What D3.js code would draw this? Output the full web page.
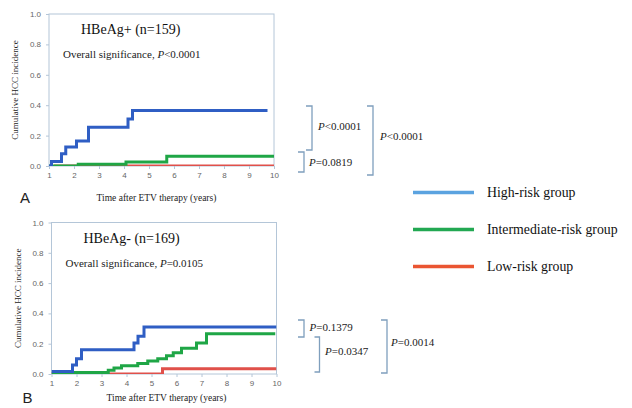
<!DOCTYPE html>
<html>
<head>
<meta charset="utf-8">
<script src="https://d3js.org/d3.v7.min.js"></script>
<style>
body { margin: 0; background: #fff; }
svg { display: block; }
</style>
</head>
<body>
<div id="chartgoeshere"></div>
<script>
// Cumulative HCC incidence by risk group, HBeAg+ and HBeAg- panels

// Axis ticks
var xTicks = [1, 2, 3, 4, 5, 6, 7, 8, 9, 10];
var yTicks = [0, 0.2, 0.4, 0.6, 0.8, 1.0];

var groupNames = ["High-risk group", "Intermediate-risk group", "Low-risk group"];

// HBeAg+ (n=159) step curves: time (years) / cumulative incidence
var posHighTime = [1, 1.1, 1.5, 1.67, 2.1, 2.58, 4.16, 4.34, 9.74];
var posHighRate = [0, 0.03, 0.08, 0.125, 0.165, 0.255, 0.31, 0.365, 0.365];
var posIntTime = [1, 2.17, 4.08, 5.71, 10];
var posIntRate = [0, 0.012, 0.027, 0.064, 0.064];
var posLowTime = [1.2, 10];
var posLowRate = [0, 0];

// HBeAg- (n=169)
var negHighTime = [1, 1.84, 2.0, 2.2, 4.3, 4.46, 4.7, 10];
var negHighRate = [0.017, 0.06, 0.1, 0.16, 0.205, 0.25, 0.31, 0.31];
var negIntTime = [1, 1.84, 3.27, 3.5, 3.8, 4.45, 4.85, 5.25, 5.6, 5.87, 6.2, 6.8, 7.2, 9.95];
var negIntRate = [0, 0.01, 0.025, 0.04, 0.055, 0.07, 0.085, 0.1, 0.12, 0.14, 0.17, 0.205, 0.265, 0.265];
var negLowTime = [1, 5.44, 10];
var negLowRate = [0, 0.035, 0.035];

// Pairwise p-values (text after the italic P)
var posPValues = ["<0.0001", "=0.0819", "<0.0001"];
var negPValues = ["=0.1379", "=0.0347", "=0.0014"];

var serif = "'Liberation Serif', 'Times New Roman', serif";
var sans = "'Liberation Sans', Arial, sans-serif";
var frameColor = "#b4c6d8";
var lineColors = ["#2f5ec4", "#1fa646", "#e0504a"];
var legendColors = ["#5ba3e0", "#22a852", "#ea5532"];

var svg = d3.select("#chartgoeshere")
	.append("svg")
	.attr("width", 632)
	.attr("height", 408);

// Draw one panel
function drawPanel(p) {
	var x = d3.scaleLinear().domain([1, 10]).range([p.left, p.right]);
	var y = d3.scaleLinear().domain([0, 1]).range([p.bottom, p.top]);

	// clip so lines at 0 are half hidden like the original
	svg.append("clipPath")
		.attr("id", p.id + "-clip")
		.append("rect")
		.attr("x", p.left)
		.attr("y", p.top)
		.attr("width", p.right - p.left)
		.attr("height", p.bottom - p.top);

	// Frame
	svg.append("rect")
		.attr("x", p.left)
		.attr("y", p.top)
		.attr("width", p.right - p.left)
		.attr("height", p.bottom - p.top)
		.attr("fill", "#fff")
		.attr("stroke", frameColor)
		.attr("stroke-width", 1);

	// Axes
	var xAxis = svg.append("g")
		.attr("transform", "translate(0," + p.bottom + ")")
		.call(d3.axisBottom(x).tickValues(xTicks).tickSize(3).tickPadding(3)
			.tickFormat(d3.format("d")));
	var yAxis = svg.append("g")
		.attr("transform", "translate(" + p.left + ",0)")
		.call(d3.axisLeft(y).tickValues(yTicks).tickSize(3).tickPadding(5)
			.tickFormat(d3.format(".1f")));

	[xAxis, yAxis].forEach(function (a) {
		a.select(".domain").remove();
		a.selectAll("line").attr("stroke", frameColor);
		a.selectAll("text")
			.attr("fill", "#666")
			.style("font-family", sans)
			.style("font-size", "8px");
	});

	// Curves
	var line = d3.line()
		.x(function (d) { return x(d[0]); })
		.y(function (d) { return y(d[1]); })
		.curve(d3.curveStepAfter);

	var curves = svg.append("g").attr("clip-path", "url(#" + p.id + "-clip)");
	for (var i = p.series.length - 1; i >= 0; i--) {
		curves.append("path")
			.datum(d3.zip(p.series[i][0], p.series[i][1]))
			.attr("d", line)
			.attr("fill", "none")
			.attr("stroke", lineColors[i])
			.attr("stroke-width", 3);
	}

	// Texts
	svg.append("text")
		.attr("x", p.left + 32)
		.attr("y", p.top + 20)
		.style("font-family", serif)
		.style("font-size", "14px")
		.attr("fill", "#111")
		.text(p.title);

	var ov = svg.append("text")
		.attr("x", p.left + 14)
		.attr("y", p.top + 44)
		.style("font-family", serif)
		.style("font-size", "11px")
		.attr("fill", "#222");
	ov.append("tspan").text("Overall significance, ");
	ov.append("tspan").style("font-style", "italic").text("P");
	ov.append("tspan").text(p.overall);

	svg.append("text")
		.attr("transform", "translate(" + (p.left - 31) + "," + ((p.top + p.bottom) / 2) + ") rotate(-90)")
		.attr("text-anchor", "middle")
		.style("font-family", serif)
		.style("font-size", "9px")
		.attr("fill", "#222")
		.text("Cumulative HCC incidence");

	svg.append("text")
		.attr("x", p.labelX)
		.attr("y", p.labelY)
		.attr("text-anchor", "middle")
		.style("font-family", serif)
		.style("font-size", "9.5px")
		.attr("fill", "#222")
		.text("Time after ETV therapy (years)");

	svg.append("text")
		.attr("x", p.left - 29)
		.attr("y", p.labelY + 2)
		.style("font-family", sans)
		.style("font-size", "15px")
		.attr("fill", "#222")
		.text(p.letter);
}

// Bracket with p-value
function bracket(bx, y1, y2, tick, label, lx, ly) {
	svg.append("path")
		.attr("d", "M" + (bx - tick) + "," + y1 + "H" + bx + "V" + y2 + "H" + (bx - tick))
		.attr("fill", "none")
		.attr("stroke", "#7f9fbd")
		.attr("stroke-width", 1.3);
	var t = svg.append("text")
		.attr("x", lx)
		.attr("y", ly)
		.style("font-family", serif)
		.style("font-size", "11px")
		.attr("fill", "#222");
	t.append("tspan").style("font-style", "italic").text("P");
	t.append("tspan").text(label);
}

drawPanel({
	id: "pos", left: 49, right: 274, top: 14, bottom: 166,
	labelX: 156.5, labelY: 201,
	title: "HBeAg+ (n=159)", overall: "<0.0001", letter: "A",
	series: [[posHighTime, posHighRate], [posIntTime, posIntRate], [posLowTime, posLowRate]]
});

drawPanel({
	id: "neg", left: 51.5, right: 276.5, top: 222.5, bottom: 374,
	labelX: 166.5, labelY: 401,
	title: "HBeAg- (n=169)", overall: "=0.0105", letter: "B",
	series: [[negHighTime, negHighRate], [negIntTime, negIntRate], [negLowTime, negLowRate]]
});

// Top brackets
bracket(312, 106, 150, 6, posPValues[0], 318, 129.5);
bracket(304, 152, 172, 6, posPValues[1], 309, 165.5);
bracket(373, 106, 175, 6, posPValues[2], 380, 140);

// Bottom brackets
bracket(304, 320, 337, 6, negPValues[0], 309.5, 331);
bracket(319.5, 337, 372, 5, negPValues[1], 325, 355);
bracket(387, 320, 373, 6, negPValues[2], 391, 345.5);

// Legend
var legend = svg.append("g");
var legendY = d3.scalePoint().domain(groupNames).range([192.5, 266.5]);
groupNames.forEach(function (name, i) {
	legend.append("line")
		.attr("x1", 413)
		.attr("x2", 474)
		.attr("y1", legendY(name))
		.attr("y2", legendY(name))
		.attr("stroke", legendColors[i])
		.attr("stroke-width", 3.5);
	legend.append("text")
		.attr("x", 487)
		.attr("y", legendY(name) + 4.5)
		.style("font-family", serif)
		.style("font-size", "13.8px")
		.attr("fill", "#111")
		.text(name);
});
</script>
</body>
</html>
